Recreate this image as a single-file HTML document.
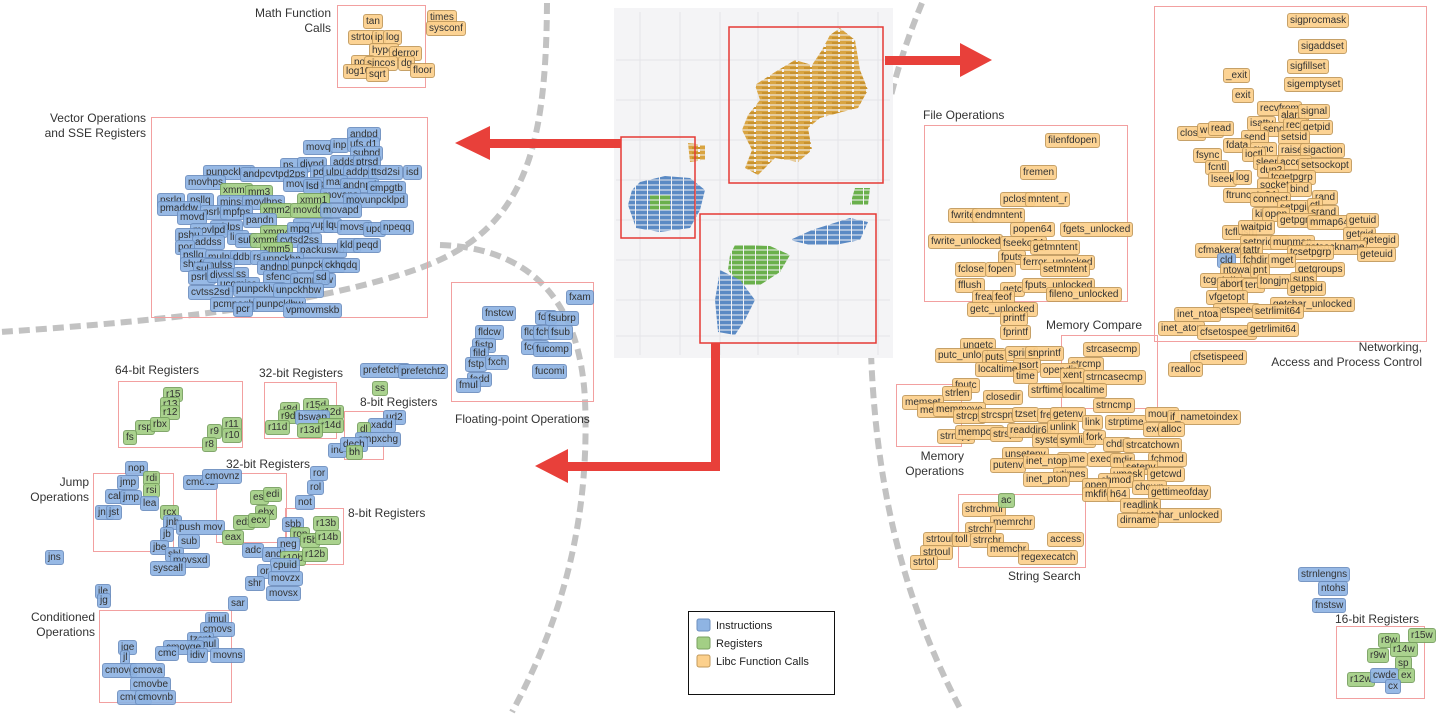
<!DOCTYPE html>
<html><head><meta charset="utf-8">
<style>
body{margin:0;width:1447px;height:715px;background:#fff;position:relative;overflow:hidden;font-family:"Liberation Sans",sans-serif}
svg.bg{position:absolute;left:0;top:0}
i{position:absolute;font-style:normal;font-size:10px;line-height:13px;padding:0 2px;border:1px solid;border-radius:3px;white-space:nowrap;color:#222;opacity:.92}
.b{background:#8fb4e3;border-color:#6d8fbf}
.g{background:#a3cf85;border-color:#78a060}
.o{background:#fcd08c;border-color:#c29a5c}
.t{position:absolute;font-size:12px;color:#333;white-space:nowrap;line-height:15px}
.r{text-align:right}
.bx{position:absolute;border:1px solid #f2a0a0}
</style></head><body>
<svg class="bg" width="1447" height="715">
<defs>
<pattern id="po" width="14" height="5" patternUnits="userSpaceOnUse"><rect x="0" y="0.5" width="12" height="4" fill="#d9a441"/><rect x="6" y="2" width="8" height="2" fill="#c8922e"/></pattern>
<pattern id="pb" width="12" height="5" patternUnits="userSpaceOnUse"><rect x="0" y="0.5" width="11" height="4" fill="#5b8ac4"/></pattern>
<pattern id="pg" width="12" height="5" patternUnits="userSpaceOnUse"><rect x="0" y="0.5" width="11" height="4" fill="#6ab04c"/></pattern>
</defs>
<g fill="none" stroke="#c2c2c2" stroke-width="6" stroke-dasharray="11 6">
<path d="M547,3 C546,150 525,230 420,268 S150,322 0,332"/>
<path d="M922,3 C890,80 870,160 870,300 C870,450 892,580 962,712"/>
<path d="M440,245 C530,248 580,300 585,400 C590,520 562,620 512,712"/>
</g>
<rect x="614" y="8" width="279" height="350" fill="#f4f4f6"/>
<g stroke="#e4e4e8" stroke-width="1">
<line x1="640" y1="12" x2="640" y2="355"/><line x1="680" y1="12" x2="680" y2="355"/><line x1="720" y1="12" x2="720" y2="355"/><line x1="758" y1="12" x2="758" y2="355"/><line x1="798" y1="12" x2="798" y2="355"/><line x1="838" y1="12" x2="838" y2="355"/><line x1="878" y1="12" x2="878" y2="355"/>
<line x1="616" y1="60" x2="890" y2="60"/><line x1="616" y1="100" x2="890" y2="100"/><line x1="616" y1="140" x2="890" y2="140"/><line x1="616" y1="180" x2="890" y2="180"/><line x1="616" y1="220" x2="890" y2="220"/><line x1="616" y1="260" x2="890" y2="260"/><line x1="616" y1="300" x2="890" y2="300"/><line x1="616" y1="336" x2="890" y2="336"/>
</g>
<polygon points="840,28 855,40 860,70 868,90 858,108 842,112 820,118 808,128 812,150 798,162 775,158 758,175 745,168 752,150 742,130 748,115 760,100 755,85 775,72 795,60 812,65 822,50 830,35" fill="url(#po)"/>
<polygon points="688,143 705,145 705,160 690,162" fill="url(#po)"/>
<polygon points="640,182 665,176 690,178 705,190 700,210 690,228 660,232 636,228 628,205 632,190" fill="url(#pb)"/>
<polygon points="650,195 670,195 670,210 650,210" fill="url(#pg)"/>
<polygon points="855,188 870,188 868,205 850,205" fill="url(#pg)"/>
<polygon points="850,218 868,222 860,240 835,245 810,245 790,240 812,230" fill="url(#pb)"/>
<polygon points="735,245 770,246 790,255 780,272 760,285 740,285 728,270 730,255" fill="url(#pg)"/>
<polygon points="720,270 740,280 755,300 745,320 735,335 718,332 715,300" fill="url(#pb)"/>
<rect x="729" y="27" width="154" height="156" fill="none" stroke="#e53935" stroke-width="1.5"/>
<rect x="621" y="137" width="74" height="101" fill="none" stroke="#e53935" stroke-width="1.5"/>
<rect x="700" y="214" width="176" height="129" fill="none" stroke="#e53935" stroke-width="1.5"/>
<g fill="#e8403a">
<rect x="885" y="56" width="80" height="9"/><polygon points="960,43 992,60 960,77"/>
<rect x="488" y="139" width="133" height="9"/><polygon points="490,126 455,143 490,160"/>
<rect x="711" y="343" width="9" height="128"/><rect x="565" y="462" width="155" height="9"/><polygon points="568,449 535,466 568,483"/>
</g>
<rect x="688.5" y="611.5" width="146" height="83" fill="#fff" stroke="#111"/>
<rect x="697" y="619" width="13" height="12" rx="2" fill="#8fb4e3" stroke="#6d8fbf"/>
<rect x="697" y="637" width="13" height="12" rx="2" fill="#a3cf85" stroke="#78a060"/>
<rect x="697" y="655" width="13" height="12" rx="2" fill="#fcd08c" stroke="#c29a5c"/>
<g font-family="Liberation Sans, sans-serif" font-size="11" fill="#222">
<text x="716" y="629">Instructions</text><text x="716" y="647">Registers</text><text x="716" y="665">Libc Function Calls</text>
</g>
</svg>

<div class="bx" style="left:337px;top:5px;width:87px;height:81px"></div>
<div class="bx" style="left:151px;top:117px;width:275px;height:199px"></div>
<div class="bx" style="left:924px;top:125px;width:202px;height:175px"></div>
<div class="bx" style="left:1154px;top:6px;width:271px;height:334px"></div>
<div class="bx" style="left:1061px;top:335px;width:95px;height:72px"></div>
<div class="bx" style="left:896px;top:384px;width:64px;height:61px"></div>
<div class="bx" style="left:958px;top:494px;width:126px;height:72px"></div>
<div class="bx" style="left:1336px;top:626px;width:87px;height:71px"></div>
<div class="bx" style="left:451px;top:282px;width:141px;height:118px"></div>
<div class="bx" style="left:118px;top:381px;width:123px;height:65px"></div>
<div class="bx" style="left:264px;top:382px;width:71px;height:55px"></div>
<div class="bx" style="left:344px;top:411px;width:38px;height:47px"></div>
<div class="bx" style="left:93px;top:473px;width:79px;height:77px"></div>
<div class="bx" style="left:216px;top:473px;width:69px;height:68px"></div>
<div class="bx" style="left:285px;top:508px;width:57px;height:55px"></div>
<div class="bx" style="left:99px;top:610px;width:131px;height:91px"></div>

<div class="t r" style="right:1116px;top:6px">Math Function<br>Calls</div>
<div class="t r" style="right:1301px;top:111px">Vector Operations<br>and SSE Registers</div>
<div class="t" style="left:923px;top:108px">File Operations</div>
<div class="t r" style="right:25px;top:340px">Networking,<br>Access and Process Control</div>
<div class="t" style="left:1046px;top:318px">Memory Compare</div>
<div class="t r" style="right:483px;top:449px">Memory<br>Operations</div>
<div class="t" style="left:1008px;top:569px">String Search</div>
<div class="t" style="left:1335px;top:612px">16-bit Registers</div>
<div class="t" style="left:455px;top:412px">Floating-point Operations</div>
<div class="t" style="left:115px;top:363px">64-bit Registers</div>
<div class="t" style="left:259px;top:366px">32-bit Registers</div>
<div class="t" style="left:360px;top:395px">8-bit Registers</div>
<div class="t r" style="right:1358px;top:475px">Jump<br>Operations</div>
<div class="t" style="left:226px;top:457px">32-bit Registers</div>
<div class="t" style="left:348px;top:506px">8-bit Registers</div>
<div class="t r" style="right:1352px;top:610px">Conditioned<br>Operations</div>

<!-- Math -->
<i class="o" style="left:363px;top:14px">tan</i><i class="o" style="left:348px;top:30px">strtod</i><i class="o" style="left:372px;top:30px">ip</i><i class="o" style="left:383px;top:30px">log</i>
<i class="o" style="left:369px;top:43px">hypot</i><i class="o" style="left:389px;top:46px">derror</i><i class="o" style="left:351px;top:55px">pow</i><i class="o" style="left:364px;top:56px">sincos</i>
<i class="o" style="left:398px;top:56px">dg</i><i class="o" style="left:343px;top:64px">log10</i><i class="o" style="left:366px;top:67px">sqrt</i><i class="o" style="left:410px;top:63px">floor</i>
<i class="o" style="left:427px;top:10px">times</i><i class="o" style="left:426px;top:21px">sysconf</i>

<!-- Vector -->
<i class="b" style="left:347px;top:127px">andpd</i><i class="b" style="left:303px;top:140px">movq</i><i class="b" style="left:330px;top:138px">inp</i><i class="b" style="left:347px;top:137px">ufs.d1</i><i class="b" style="left:350px;top:146px">subpd</i>
<i class="b" style="left:280px;top:158px">ps.ub</i><i class="b" style="left:297px;top:157px">divpd</i><i class="b" style="left:330px;top:155px">addsd</i><i class="b" style="left:353px;top:155px">ptrsd</i>
<i class="b" style="left:203px;top:165px">punpcklqd</i><i class="b" style="left:240px;top:167px">andpcvtpd2ps</i><i class="b" style="left:310px;top:165px">pd</i><i class="b" style="left:323px;top:165px">ulpu</i><i class="b" style="left:343px;top:165px">addpd</i><i class="b" style="left:368px;top:165px">ttsd2si</i><i class="b" style="left:403px;top:165px">isd</i>
<i class="b" style="left:185px;top:175px">movhps</i><i class="b" style="left:283px;top:177px">movntdq</i><i class="b" style="left:303px;top:179px">lsd</i><i class="b" style="left:323px;top:175px">max</i><i class="b" style="left:340px;top:178px">andnpd</i><i class="b" style="left:367px;top:181px">cmpgtb</i>
<i class="g" style="left:220px;top:183px">xmm7</i><i class="g" style="left:245px;top:185px">mm3</i><i class="b" style="left:320px;top:188px">movaps</i>
<i class="b" style="left:157px;top:193px">psrlq</i><i class="b" style="left:187px;top:193px">psllq</i><i class="b" style="left:217px;top:195px">minss</i><i class="b" style="left:242px;top:195px">movlhps</i><i class="g" style="left:297px;top:193px">xmm1</i><i class="b" style="left:343px;top:193px">movunpcklpd</i>
<i class="b" style="left:157px;top:201px">pmaddw</i><i class="b" style="left:200px;top:205px">psrld</i><i class="b" style="left:220px;top:205px">mpfps</i><i class="g" style="left:260px;top:203px">xmm2</i><i class="g" style="left:290px;top:203px">movdqa</i><i class="b" style="left:320px;top:203px">movapd</i>
<i class="b" style="left:177px;top:210px">movd</i><i class="b" style="left:243px;top:213px">pandn</i>
<i class="b" style="left:210px;top:220px">addps</i><i class="b" style="left:293px;top:218px">movups</i><i class="b" style="left:323px;top:218px">lqu</i><i class="b" style="left:337px;top:220px">movsd</i><i class="b" style="left:363px;top:222px">upd</i><i class="b" style="left:380px;top:220px">npeqq</i>
<i class="b" style="left:190px;top:223px">movlpd</i><i class="b" style="left:175px;top:228px">pshu</i><i class="g" style="left:260px;top:225px">xmm4</i><i class="b" style="left:287px;top:222px">mpg</i>
<i class="b" style="left:192px;top:235px">addss</i><i class="b" style="left:227px;top:230px">lign</i><i class="b" style="left:235px;top:233px">sub</i><i class="g" style="left:250px;top:233px">xmm6</i><i class="b" style="left:277px;top:233px">cvtsd2ss</i>
<i class="b" style="left:297px;top:243px">packuswb</i><i class="b" style="left:337px;top:238px">kldq</i><i class="b" style="left:353px;top:238px">peqd</i>
<i class="b" style="left:175px;top:240px">por</i><i class="g" style="left:260px;top:242px">xmm5</i><i class="b" style="left:180px;top:248px">psllq</i><i class="b" style="left:205px;top:250px">mulps</i><i class="b" style="left:230px;top:250px">ddb</i><i class="b" style="left:250px;top:250px">rss</i><i class="b" style="left:260px;top:252px">unpckhp</i>
<i class="b" style="left:180px;top:257px">shufps</i><i class="b" style="left:203px;top:258px">mulss</i><i class="b" style="left:257px;top:260px">andnps</i><i class="b" style="left:288px;top:258px">punpckhwd</i><i class="b" style="left:322px;top:258px">ckhqdq</i>
<i class="b" style="left:193px;top:262px">sul</i><i class="b" style="left:188px;top:270px">psrld</i><i class="b" style="left:207px;top:268px">divss</i><i class="b" style="left:233px;top:267px">ss</i><i class="b" style="left:263px;top:270px">sfence</i><i class="b" style="left:290px;top:273px">pcmpgtw</i><i class="b" style="left:313px;top:270px">sd</i>
<i class="b" style="left:217px;top:277px">ucomiss</i><i class="b" style="left:188px;top:285px">cvtss2sd</i><i class="b" style="left:233px;top:282px">punpcklwd</i><i class="b" style="left:273px;top:283px">unpckhbw</i>
<i class="b" style="left:210px;top:297px">pcmpeqb</i><i class="b" style="left:253px;top:297px">punpcklbw</i><i class="b" style="left:233px;top:302px">pcr</i><i class="b" style="left:283px;top:303px">vpmovmskb</i>

<!-- File -->
<i class="o" style="left:1045px;top:133px">filenfdopen</i><i class="o" style="left:1020px;top:165px">fremen</i><i class="o" style="left:1000px;top:192px">pclose</i><i class="o" style="left:1025px;top:192px">mntent_r</i>
<i class="o" style="left:948px;top:208px">fwrite</i><i class="o" style="left:972px;top:208px">endmntent</i><i class="o" style="left:1010px;top:222px">popen64</i><i class="o" style="left:1060px;top:222px">fgets_unlocked</i>
<i class="o" style="left:928px;top:234px">fwrite_unlocked</i><i class="o" style="left:1000px;top:236px">fseeko64</i><i class="o" style="left:1030px;top:240px">getmntent</i>
<i class="o" style="left:998px;top:250px">fputs</i><i class="o" style="left:1020px;top:255px">ferror_unlocked</i><i class="o" style="left:955px;top:262px">fclose</i><i class="o" style="left:985px;top:262px">fopen</i><i class="o" style="left:1040px;top:262px">setmntent</i>
<i class="o" style="left:955px;top:278px">fflush</i><i class="o" style="left:1000px;top:282px">getc</i><i class="o" style="left:1022px;top:278px">fputs_unlocked</i><i class="o" style="left:972px;top:290px">fread</i><i class="o" style="left:992px;top:290px">feof</i><i class="o" style="left:1046px;top:287px">fileno_unlocked</i>

<!-- Networking -->
<i class="o" style="left:1287px;top:13px">sigprocmask</i><i class="o" style="left:1298px;top:39px">sigaddset</i><i class="o" style="left:1287px;top:59px">sigfillset</i><i class="o" style="left:1223px;top:68px">_exit</i><i class="o" style="left:1284px;top:77px">sigemptyset</i><i class="o" style="left:1232px;top:88px">exit</i>
<i class="o" style="left:1257px;top:101px">recvfrom</i><i class="o" style="left:1278px;top:108px">alarm</i><i class="o" style="left:1298px;top:104px">signal</i><i class="o" style="left:1247px;top:116px">isatty</i><i class="o" style="left:1260px;top:122px">sendto</i><i class="o" style="left:1283px;top:118px">recv</i><i class="o" style="left:1300px;top:120px">getpid</i>
<i class="o" style="left:1177px;top:126px">close</i><i class="o" style="left:1197px;top:123px">write</i><i class="o" style="left:1208px;top:121px">read</i><i class="o" style="left:1241px;top:130px">send</i><i class="o" style="left:1278px;top:130px">setsid</i>
<i class="o" style="left:1223px;top:138px">fdata</i><i class="o" style="left:1250px;top:142px">sync</i><i class="o" style="left:1242px;top:147px">ioctl</i><i class="o" style="left:1278px;top:143px">raise</i><i class="o" style="left:1300px;top:143px">sigaction</i>
<i class="o" style="left:1193px;top:148px">fsync</i><i class="o" style="left:1253px;top:155px">sleep</i><i class="o" style="left:1277px;top:155px">accept</i><i class="o" style="left:1298px;top:158px">setsockopt</i><i class="o" style="left:1205px;top:160px">fcntl</i><i class="o" style="left:1257px;top:163px">dup2</i>
<i class="o" style="left:1208px;top:172px">lseek</i><i class="o" style="left:1233px;top:170px">log</i><i class="o" style="left:1268px;top:170px">tcgetpgrp</i><i class="o" style="left:1257px;top:178px">socket</i><i class="o" style="left:1287px;top:182px">bind</i>
<i class="o" style="left:1223px;top:188px">ftruncate64</i><i class="o" style="left:1250px;top:192px">connect</i><i class="o" style="left:1312px;top:190px">rand</i><i class="o" style="left:1277px;top:200px">setpgid</i><i class="o" style="left:1307px;top:198px">ctl</i><i class="o" style="left:1308px;top:205px">srand</i>
<i class="o" style="left:1252px;top:207px">kill</i><i class="o" style="left:1262px;top:207px">open</i><i class="o" style="left:1277px;top:213px">getpgrp</i><i class="o" style="left:1307px;top:215px">mmap64</i><i class="o" style="left:1346px;top:213px">getuid</i>
<i class="o" style="left:1222px;top:225px">tcflush</i><i class="o" style="left:1238px;top:220px">waitpid</i><i class="o" style="left:1343px;top:227px">getgid</i><i class="o" style="left:1360px;top:233px">getegid</i><i class="o" style="left:1240px;top:235px">setpriority</i><i class="o" style="left:1270px;top:235px">munmap</i><i class="o" style="left:1302px;top:240px">getsockname</i>
<i class="o" style="left:1195px;top:243px">cfmakeraw</i><i class="o" style="left:1240px;top:243px">tattr</i><i class="o" style="left:1287px;top:245px">tcsetpgrp</i><i class="o" style="left:1357px;top:247px">geteuid</i>
<i class="b" style="left:1217px;top:253px">cld</i><i class="o" style="left:1240px;top:253px">fchdir</i><i class="o" style="left:1268px;top:253px">mget</i><i class="o" style="left:1220px;top:263px">ntowait</i><i class="o" style="left:1250px;top:263px">pnt</i><i class="o" style="left:1295px;top:262px">getgroups</i>
<i class="o" style="left:1200px;top:273px">tcgetattr</i><i class="o" style="left:1217px;top:277px">abort</i><i class="o" style="left:1242px;top:278px">tem</i><i class="o" style="left:1257px;top:274px">longjmp</i><i class="o" style="left:1290px;top:272px">sups</i><i class="o" style="left:1287px;top:281px">getppid</i>
<i class="o" style="left:1206px;top:290px">vfgetopt</i><i class="o" style="left:1270px;top:297px">getchar_unlocked</i><i class="o" style="left:1213px;top:303px">setspeed</i><i class="o" style="left:1252px;top:304px">setrlimit64</i>
<i class="o" style="left:1174px;top:307px">inet_ntoa</i><i class="o" style="left:1158px;top:321px">inet_aton</i><i class="o" style="left:1197px;top:325px">cfsetospeed</i><i class="o" style="left:1247px;top:322px">getrlimit64</i>
<i class="o" style="left:1190px;top:350px">cfsetispeed</i><i class="o" style="left:1168px;top:362px">realloc</i>

<!-- Memory region -->
<i class="o" style="left:967px;top:302px">getc_unlocked</i><i class="o" style="left:1000px;top:311px">printf</i><i class="o" style="left:1000px;top:325px">fprintf</i><i class="o" style="left:960px;top:338px">ungetc</i>
<i class="o" style="left:935px;top:348px">putc_unlocked</i><i class="o" style="left:982px;top:350px">puts</i><i class="o" style="left:1005px;top:346px">sprintf</i><i class="o" style="left:1025px;top:346px">snprintf</i>
<i class="o" style="left:1083px;top:342px">strcasecmp</i><i class="o" style="left:1068px;top:357px">strcmp</i><i class="o" style="left:1013px;top:358px">qsort</i><i class="o" style="left:975px;top:362px">localtime</i><i class="o" style="left:1013px;top:369px">time</i><i class="o" style="left:1040px;top:363px">opendir</i><i class="o" style="left:1060px;top:368px">xent</i><i class="o" style="left:1083px;top:370px">strncasecmp</i>
<i class="o" style="left:1028px;top:383px">strftime</i><i class="o" style="left:1062px;top:383px">localtime</i><i class="o" style="left:952px;top:378px">fputc</i><i class="o" style="left:942px;top:386px">strlen</i><i class="o" style="left:902px;top:395px">memset</i><i class="o" style="left:983px;top:390px">closedir</i>
<i class="o" style="left:917px;top:403px">memcpy</i><i class="o" style="left:933px;top:402px">memmove</i><i class="o" style="left:1093px;top:398px">strncmp</i><i class="o" style="left:953px;top:409px">strcpy</i><i class="o" style="left:978px;top:408px">strcspn</i><i class="o" style="left:1012px;top:407px">tzset</i><i class="o" style="left:1037px;top:408px">free</i><i class="o" style="left:1050px;top:407px">getenv</i>
<i class="o" style="left:1082px;top:415px">link</i><i class="o" style="left:1105px;top:415px">strptime</i><i class="o" style="left:1145px;top:407px">mount</i><i class="o" style="left:1167px;top:410px">if_nametoindex</i><i class="o" style="left:1143px;top:422px">execv</i><i class="o" style="left:1158px;top:422px">alloc</i>
<i class="o" style="left:937px;top:429px">strncpy</i><i class="o" style="left:955px;top:425px">mempcpy</i><i class="o" style="left:990px;top:427px">strspn</i><i class="o" style="left:1007px;top:423px">readdir64</i><i class="o" style="left:1047px;top:420px">unlink</i>
<i class="o" style="left:1032px;top:433px">system</i><i class="o" style="left:1057px;top:433px">symlink</i><i class="o" style="left:1083px;top:430px">fork</i><i class="o" style="left:1103px;top:437px">chdir</i><i class="o" style="left:1123px;top:438px">strcatchown</i>
<i class="o" style="left:1002px;top:447px">unsetenv</i><i class="o" style="left:1057px;top:452px">name</i><i class="o" style="left:1087px;top:452px">execlp</i><i class="o" style="left:1110px;top:453px">mdir</i><i class="o" style="left:1148px;top:452px">fchmod</i>
<i class="o" style="left:990px;top:458px">putenv</i><i class="o" style="left:1023px;top:454px">inet_ntop</i><i class="o" style="left:1123px;top:460px">setenv</i><i class="o" style="left:1110px;top:467px">umask</i><i class="o" style="left:1147px;top:467px">getcwd</i><i class="o" style="left:1053px;top:467px">utimes</i>
<i class="o" style="left:1023px;top:472px">inet_pton</i><i class="o" style="left:1098px;top:473px">chmod</i><i class="o" style="left:1082px;top:478px">open</i><i class="o" style="left:1132px;top:480px">chown</i><i class="o" style="left:1148px;top:485px">gettimeofday</i><i class="o" style="left:1082px;top:487px">mkfifo</i><i class="o" style="left:1107px;top:487px">h64</i>
<i class="o" style="left:1120px;top:498px">readlink</i><i class="o" style="left:962px;top:502px">strchmul</i><i class="g" style="left:998px;top:493px">ac</i><i class="o" style="left:1137px;top:508px">getchar_unlocked</i><i class="o" style="left:1117px;top:513px">dirname</i>
<i class="o" style="left:990px;top:515px">memrchr</i><i class="o" style="left:965px;top:522px">strchr</i><i class="o" style="left:923px;top:532px">strtoull</i><i class="o" style="left:952px;top:532px">toll</i><i class="o" style="left:970px;top:533px">strrchr</i><i class="o" style="left:1047px;top:532px">access</i>
<i class="o" style="left:987px;top:542px">memchr</i><i class="o" style="left:920px;top:545px">strtoul</i><i class="o" style="left:910px;top:555px">strtol</i><i class="o" style="left:1018px;top:550px">regexecatch</i>

<!-- right bottom -->
<i class="b" style="left:1298px;top:567px">strnlengns</i><i class="b" style="left:1318px;top:581px">ntohs</i><i class="b" style="left:1312px;top:598px">fnstsw</i>
<i class="g" style="left:1408px;top:628px">r15w</i><i class="g" style="left:1378px;top:633px">r8w</i><i class="g" style="left:1390px;top:642px">r14w</i><i class="g" style="left:1367px;top:648px">r9w</i><i class="g" style="left:1395px;top:656px">sp</i><i class="g" style="left:1347px;top:672px">r12w</i><i class="b" style="left:1370px;top:668px">cwde</i><i class="g" style="left:1398px;top:668px">ex</i><i class="b" style="left:1385px;top:679px">cx</i>

<!-- Floating -->
<i class="b" style="left:566px;top:290px">fxam</i><i class="b" style="left:482px;top:306px">fnstcw</i><i class="b" style="left:535px;top:310px">fdiv</i><i class="b" style="left:545px;top:311px">fsubrp</i>
<i class="b" style="left:475px;top:325px">fldcw</i><i class="b" style="left:521px;top:325px">fldz</i><i class="b" style="left:533px;top:325px">fchs</i><i class="b" style="left:548px;top:325px">fsub</i>
<i class="b" style="left:472px;top:338px">fistp</i><i class="b" style="left:521px;top:340px">fcom</i><i class="b" style="left:533px;top:342px">fucomp</i><i class="b" style="left:470px;top:346px">fild</i><i class="b" style="left:465px;top:357px">fstp</i><i class="b" style="left:485px;top:355px">fxch</i>
<i class="b" style="left:532px;top:364px">fucomi</i><i class="b" style="left:467px;top:372px">fadd</i><i class="b" style="left:456px;top:378px">fmul</i>

<!-- Left bottom -->
<i class="g" style="left:163px;top:387px">r15</i><i class="g" style="left:160px;top:397px">r13</i><i class="g" style="left:160px;top:405px">r12</i><i class="g" style="left:135px;top:420px">rsp</i><i class="g" style="left:150px;top:417px">rbx</i><i class="g" style="left:123px;top:430px">fs</i>
<i class="g" style="left:207px;top:424px">r9</i><i class="g" style="left:222px;top:417px">r11</i><i class="g" style="left:222px;top:428px">r10</i><i class="g" style="left:202px;top:437px">r8</i>
<i class="g" style="left:280px;top:402px">r8d</i><i class="g" style="left:278px;top:409px">r9d</i><i class="g" style="left:303px;top:398px">r15d</i><i class="g" style="left:318px;top:405px">r12d</i><i class="b" style="left:295px;top:410px">bswap</i><i class="g" style="left:318px;top:418px">r14d</i><i class="g" style="left:265px;top:420px">r11d</i><i class="g" style="left:297px;top:423px">r13d</i>
<i class="b" style="left:360px;top:363px">prefetcht0</i><i class="b" style="left:398px;top:364px">prefetcht2</i><i class="g" style="left:372px;top:381px">ss</i>
<i class="b" style="left:383px;top:410px">ud2</i><i class="b" style="left:368px;top:418px">xadd</i><i class="g" style="left:357px;top:422px">dl</i><i class="b" style="left:355px;top:432px">cmpxchg</i><i class="b" style="left:328px;top:443px">inc</i><i class="b" style="left:340px;top:437px">dech</i><i class="g" style="left:346px;top:445px">bh</i>
<i class="b" style="left:125px;top:461px">nop</i><i class="b" style="left:117px;top:475px">jmp</i><i class="g" style="left:143px;top:471px">rdi</i><i class="b" style="left:105px;top:489px">call</i><i class="b" style="left:120px;top:490px">jmp</i><i class="g" style="left:143px;top:483px">rsi</i><i class="b" style="left:140px;top:496px">lea</i><i class="b" style="left:95px;top:505px">jnz</i><i class="b" style="left:106px;top:505px">jst</i>
<i class="g" style="left:160px;top:505px">rcx</i><i class="b" style="left:163px;top:515px">jnb</i><i class="b" style="left:176px;top:520px">push mov</i><i class="b" style="left:160px;top:527px">jb</i><i class="b" style="left:178px;top:534px">sub</i><i class="b" style="left:150px;top:540px">jbe</i><i class="b" style="left:165px;top:547px">shl</i><i class="b" style="left:170px;top:553px">movsxd</i><i class="b" style="left:150px;top:561px">syscall</i>
<i class="b" style="left:183px;top:475px">cmovz</i><i class="b" style="left:202px;top:469px">cmovnz</i><i class="b" style="left:45px;top:550px">jns</i><i class="b" style="left:95px;top:584px">jle</i><i class="b" style="left:97px;top:593px">jg</i>
<i class="g" style="left:250px;top:490px">esi</i><i class="g" style="left:263px;top:487px">edi</i><i class="g" style="left:255px;top:505px">ebx</i><i class="g" style="left:233px;top:515px">edx</i><i class="g" style="left:248px;top:513px">ecx</i><i class="g" style="left:222px;top:530px">eax</i>
<i class="b" style="left:242px;top:543px">adc</i><i class="b" style="left:310px;top:466px">ror</i><i class="b" style="left:307px;top:480px">rol</i><i class="b" style="left:295px;top:495px">not</i>
<i class="b" style="left:282px;top:517px">sbb</i><i class="g" style="left:313px;top:516px">r13b</i><i class="g" style="left:290px;top:527px">rop</i><i class="g" style="left:300px;top:533px">r5b</i><i class="g" style="left:315px;top:530px">r14b</i><i class="b" style="left:277px;top:537px">neg</i>
<i class="b" style="left:262px;top:547px">and</i><i class="g" style="left:280px;top:551px">r10b</i><i class="g" style="left:302px;top:547px">r12b</i><i class="b" style="left:270px;top:558px">cpuid</i><i class="b" style="left:257px;top:564px">or</i>
<i class="b" style="left:245px;top:576px">shr</i><i class="b" style="left:268px;top:571px">movzx</i><i class="b" style="left:266px;top:586px">movsx</i><i class="b" style="left:228px;top:596px">sar</i>
<i class="b" style="left:205px;top:612px">imul</i><i class="b" style="left:200px;top:622px">cmovs</i><i class="b" style="left:187px;top:632px">tzcnt</i><i class="b" style="left:197px;top:637px">mul</i><i class="b" style="left:163px;top:640px">cmovge</i><i class="b" style="left:155px;top:646px">cmc</i><i class="b" style="left:187px;top:648px">idiv</i><i class="b" style="left:210px;top:648px">movns</i>
<i class="b" style="left:118px;top:640px">jge</i><i class="b" style="left:120px;top:650px">jl</i><i class="b" style="left:102px;top:663px">cmovg</i><i class="b" style="left:130px;top:663px">cmova</i><i class="b" style="left:130px;top:677px">cmovbe</i><i class="b" style="left:117px;top:690px">cmovb</i><i class="b" style="left:135px;top:690px">cmovnb</i>
</body></html>
